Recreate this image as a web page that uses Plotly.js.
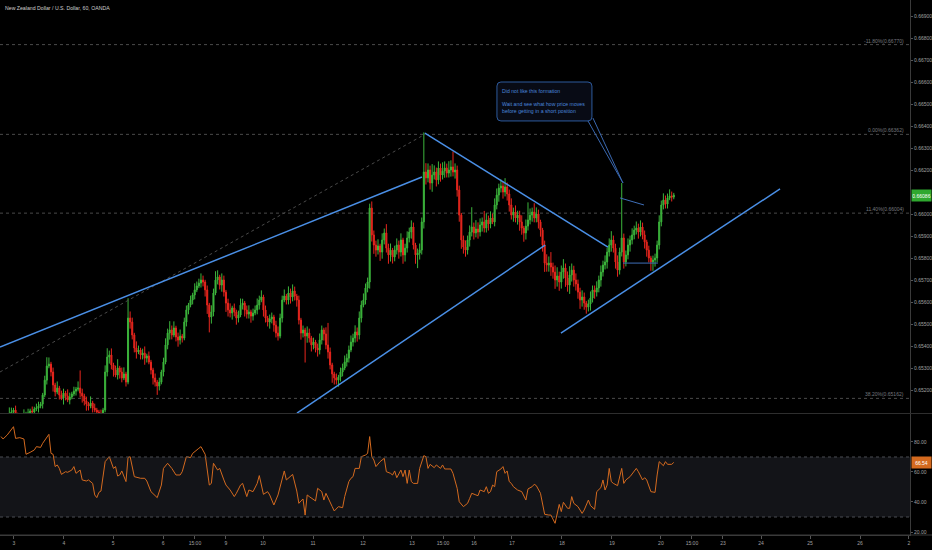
<!DOCTYPE html>
<html><head><meta charset="utf-8">
<script src="https://cdn.plot.ly/plotly-3.0.1.min.js"></script>
<style>html,body{margin:0;padding:0;background:#000;}#chart{width:932px;height:550px;}</style>
</head><body><div id="chart"></div>
<script>
// ---- DATA (hourly NZD/USD bars) ----
const firstOpen = 0.65000;
const closes = [
0.65018,0.65041,0.65064,0.65073,0.65091,0.65100,0.65109,0.65087,0.65073,0.65064,
0.65068,0.65082,0.65091,0.65095,0.65105,0.65100,0.65114,0.65118,0.65127,0.65136,
0.65177,0.65245,0.65309,0.65318,0.65282,0.65223,0.65191,0.65209,0.65177,0.65164,
0.65186,0.65173,0.65155,0.65168,0.65182,0.65195,0.65204,0.65209,0.65186,0.65173,
0.65150,0.65136,0.65127,0.65141,0.65118,0.65109,0.65100,0.65091,0.65082,0.65109,
0.65282,0.65350,0.65359,0.65314,0.65291,0.65268,0.65300,0.65282,0.65255,0.65273,
0.65236,0.65527,0.65509,0.65450,0.65391,0.65373,0.65382,0.65359,0.65368,0.65345,
0.65355,0.65327,0.65291,0.65255,0.65236,0.65218,0.65236,0.65282,0.65327,0.65405,
0.65459,0.65473,0.65450,0.65482,0.65441,0.65427,0.65445,0.65436,0.65509,0.65564,
0.65586,0.65609,0.65632,0.65655,0.65673,0.65686,0.65700,0.65691,0.65655,0.65586,
0.65532,0.65555,0.65641,0.65700,0.65714,0.65677,0.65700,0.65645,0.65595,0.65564,
0.65550,0.65573,0.65555,0.65527,0.65541,0.65586,0.65595,0.65564,0.65545,0.65555,
0.65536,0.65550,0.65564,0.65586,0.65609,0.65623,0.65564,0.65527,0.65509,0.65523,
0.65532,0.65495,0.65459,0.65445,0.65527,0.65609,0.65627,0.65609,0.65641,0.65623,
0.65650,0.65627,0.65609,0.65518,0.65459,0.65473,0.65445,0.65459,0.65436,0.65405,
0.65418,0.65391,0.65382,0.65427,0.65473,0.65455,0.65405,0.65373,0.65314,0.65273,
0.65255,0.65245,0.65259,0.65282,0.65300,0.65327,0.65345,0.65382,0.65418,0.65436,
0.65464,0.65450,0.65527,0.65586,0.65609,0.65664,0.65691,0.66027,0.65905,0.65859,
0.65836,0.65855,0.65827,0.65882,0.65914,0.65845,0.65814,0.65836,0.65805,0.65836,
0.65859,0.65827,0.65882,0.65814,0.65845,0.65891,0.65918,0.65941,0.65859,0.65814,
0.65823,0.65836,0.65964,0.66191,0.66164,0.66200,0.66141,0.66177,0.66191,0.66155,
0.66209,0.66177,0.66195,0.66209,0.66186,0.66200,0.66214,0.66191,0.66200,0.66109,
0.65995,0.65882,0.65850,0.65836,0.65882,0.65918,0.65941,0.65914,0.65932,0.65918,
0.65950,0.65964,0.65936,0.65973,0.65955,0.65982,0.65964,0.66041,0.66086,0.66118,
0.66127,0.66100,0.66123,0.66091,0.66041,0.65995,0.66009,0.65982,0.65995,0.65964,
0.65936,0.65914,0.65945,0.65973,0.65995,0.66009,0.65982,0.66000,0.65964,0.65927,
0.65859,0.65777,0.65768,0.65777,0.65759,0.65736,0.65700,0.65718,0.65691,0.65736,
0.65755,0.65709,0.65677,0.65723,0.65745,0.65700,0.65682,0.65645,0.65609,0.65623,
0.65595,0.65577,0.65591,0.65618,0.65655,0.65645,0.65664,0.65700,0.65736,0.65768,
0.65782,0.65827,0.65859,0.65882,0.65845,0.65782,0.65745,0.65827,0.65891,0.65782,
0.65814,0.65859,0.65882,0.65905,0.65927,0.65936,0.65918,0.65941,0.65905,0.65873,
0.65836,0.65800,0.65782,0.65791,0.65800,0.65859,0.65964,0.66041,0.66064,0.66045,
0.66073,0.66082,0.66077,0.66086];
// upper / lower shadow lengths in pips
const wickUpPips = [
2,1,2,1,3,2,1,2,1,1,2,3,1,2,1,2,1,2,2,1,
1,2,4,3,1,2,1,3,1,2,2,1,3,2,1,2,1,3,8,2,
1,2,1,3,1,2,1,1,2,1,3,4,2,3,1,2,4,1,2,3,
1,9,3,2,1,3,2,1,2,3,1,2,1,1,2,1,2,1,2,3,
2,4,2,3,1,2,3,1,2,2,1,2,1,3,2,2,3,2,1,2,
1,3,2,4,3,1,3,2,1,2,3,1,2,1,2,3,2,1,2,3,
1,2,2,3,2,3,1,2,1,2,2,1,2,3,2,2,3,1,3,2,
3,2,1,2,1,2,1,3,2,1,2,1,2,3,2,1,3,10,2,1,
1,2,1,2,2,3,2,2,3,2,3,2,3,2,3,2,2,2,3,2,
2,3,1,3,2,4,2,3,1,2,3,2,3,1,2,3,2,3,2,1,
2,3,2,18,4,3,2,5,3,2,3,2,4,3,2,4,3,7,3,2,
2,1,2,3,2,3,9,2,4,3,3,2,5,3,2,3,2,3,3,2,
3,2,4,2,2,3,2,3,2,2,3,1,3,8,3,2,4,3,2,1,
1,2,4,3,5,2,3,4,2,3,4,2,3,4,3,2,3,2,2,3,
2,1,2,3,2,2,3,2,3,2,3,2,3,4,2,2,3,2,25,2,
2,3,2,3,2,3,2,3,2,2,1,2,1,2,2,2,3,2,3,2,
2,3,2,1];
const wickDnPips = [
1,2,1,2,1,1,2,1,2,3,1,1,2,1,1,2,1,1,2,1,
2,1,2,1,2,3,2,1,2,1,3,2,1,2,1,1,2,1,2,3,
2,3,2,1,2,1,2,3,2,2,1,2,3,2,3,1,2,3,2,1,
2,1,3,2,2,3,1,2,2,3,2,1,2,3,2,4,2,1,2,1,
2,3,2,1,2,3,2,2,1,2,2,1,2,2,1,1,2,2,3,4,
7,3,2,1,2,2,3,2,4,3,2,3,2,3,2,1,2,3,2,2,
3,2,1,2,2,1,3,2,2,3,2,3,2,2,1,2,1,2,2,3,
2,2,3,2,3,2,12,3,2,3,2,2,3,2,2,3,2,3,2,4,
3,2,3,2,2,1,2,2,1,2,2,3,2,2,1,2,2,3,3,4,
3,2,4,3,2,2,4,3,3,2,2,3,2,4,3,2,2,3,2,4,
6,3,2,3,3,2,3,4,2,3,2,3,2,3,2,2,3,2,3,3,
3,4,3,3,2,3,2,3,2,3,2,3,2,2,3,2,1,2,2,3,
2,3,2,3,3,2,3,2,3,4,3,4,3,2,2,3,2,2,3,3,
3,4,3,3,4,3,4,3,4,3,3,4,3,4,3,3,3,3,4,3,
3,3,2,3,2,3,2,2,3,2,2,3,2,3,2,3,3,2,2,3,
2,2,3,2,2,2,3,2,2,3,3,2,4,4,3,2,2,2,2,2,
2,1,2,1];
// RSI(14) samples: bar index and value
const rsiBar = [0,1,3,6,7,9,11,12,14,16,17,19,20,23,24,25,26,27,28,29,31,32,34,35,36,38,39,41,42,44,45,46,47,48,50,52,54,55,56,57,58,60,61,62,64,67,69,70,72,75,77,78,80,82,84,86,87,89,91,92,95,96,98,100,101,102,104,105,107,108,110,112,113,115,116,118,119,121,123,124,126,128,129,131,133,136,137,140,142,143,144,145,146,147,148,151,152,154,155,156,159,160,162,164,
165,167,168,169,170,172,173,175,176,177,178,179,180,182,184,185,187,188,189,190,192,193,194,195,196,197,198,200,201,203,204,205,206,208,209,211,212,213,216,217,219,220,222,224,225,226,228,229,230,232,233,234,235,236,237,238,240,241,242,243,244,245,246,247,248,250,252,253,255,256,257,259,260,261,263,264,266,267,268,269,270,272,273,274,275,277,279,280,282,283,285,286,288,289,290,291,292,293,294,296,297,298,299,300,302,304,305,306,308,309,310,312,314,315,316,318,319,320,322,323];
const rsiVal = [83.6,82.0,84.7,90.2,82.4,82.9,82.0,71.8,73.1,74.7,76.9,76.4,79.1,85.1,72.4,71.8,63.6,64.7,62.4,58.4,60.2,59.8,61.3,63.6,59.1,61.3,54.7,54.0,54.7,52.4,44.7,42.9,46.4,47.3,66.9,70.2,62.4,63.6,57.3,58.0,60.7,53.6,69.6,70.2,56.9,55.8,55.8,54.0,46.9,42.9,51.3,62.4,65.8,62.4,58.0,58.0,60.2,70.2,69.6,72.4,75.8,76.9,71.8,51.3,52.4,65.8,61.3,62.4,54.7,51.3,48.0,43.6,45.8,51.3,52.4,43.6,48.0,46.9,52.4,57.6,45.1,46.9,44.7,38.0,44.7,60.7,54.7,58.4,47.3,39.1,40.7,42.0,31.3,44.7,43.6,40.7,49.1,46.9,41.3,45.8,36.9,34.0,36.9,36.2,
43.6,53.6,55.8,56.9,62.4,62.4,70.2,71.3,72.4,83.6,70.2,68.0,63.6,66.9,69.1,60.2,59.1,58.0,60.7,56.2,61.3,56.9,61.3,52.4,61.3,53.6,52.4,52.4,62.4,70.9,70.2,62.4,65.1,62.9,64.7,62.4,64.7,62.0,62.0,59.1,49.1,40.2,36.9,39.1,42.4,45.8,44.7,44.2,48.0,46.9,50.2,45.8,46.9,51.3,50.2,60.2,62.0,63.6,59.1,60.7,53.6,52.4,50.2,49.1,48.0,46.9,41.3,48.7,50.2,51.8,50.9,45.8,39.1,31.8,31.3,31.3,25.8,32.4,38.4,33.6,39.8,35.8,35.8,43.6,39.1,36.9,32.4,34.7,41.3,37.6,35.1,46.9,49.6,54.7,48.0,51.3,62.4,53.6,52.4,50.9,55.8,62.4,52.4,54.7,56.9,60.2,62.4,60.2,54.7,56.2,54.7,46.9,46.4,58.0,66.9,64.2,66.9,65.1,65.1,66.4];
// axis ticks
const tickBars = [6.2,30.2,53.8,77.8,93.1,108.0,125.8,149.8,173.8,197.3,212.2,227.1,245.3,269.3,293.3,316.8,331.7,346.6,364.9,388.4,412.4,435.9];
const tickLabels = ["3","4","5","6","15:00","9","10","11","12","13","15:00","16","17","18","19","20","15:00","23","24","25","26","2"];
const priceTicks = [0.652,0.653,0.654,0.655,0.656,0.657,0.658,0.659,0.660,0.662,0.663,0.664,0.665,0.666,0.667,0.668,0.669];
const rsiTicks = [20,40,60,80];
const rsiBand = [30,70];
// Fibonacci retracement levels
const fibLevels = [0.66770,0.66362,0.66004,0.65162];
const fibLabels = ["-11.80%(0.66770)","0.00%(0.66362)","11.40%(0.66004)","38.20%(0.65162)"];
// drawings: [bar0, price0, bar1, price1]
const blueLines = [
  [-0.48,0.65395,202.1,0.66168],
  [203.5,0.66368,291.4,0.65850],
  [142.1,0.65095,261.2,0.65859],
  [268.8,0.65459,374.0,0.66114]
];
const thinLines = [
  [297.2,0.66073,308.7,0.66041],
  [298.6,0.65777,315.4,0.65777]
];
const fibTrend = [-0.48,0.65282,203.5,0.66362];
const calloutBox = [238.1,283.7,0.66423,0.66600];
const calloutPointer = [[281.8,0.66423],[298.6,0.66141],[284.2,0.66436]];
const calloutTitle = "Did not like this formation";
const calloutBody = "Wait and see what how price moves<br>before getting in a short position";
const chartTitle = "New Zealand Dollar / U.S. Dollar, 60, OANDA";
const lastPriceText = "0.66086";
const lastRsiText = "66.54";

// ---- BUILD ----
const bars = closes.map((c,i)=>i);
const opens = closes.map((c,i)=> i===0 ? firstOpen : closes[i-1]);
const highs = closes.map((c,i)=> Math.max(opens[i],c) + (wickUpPips[i]||0)/1e4);
const lows  = closes.map((c,i)=> Math.min(opens[i],c) - (wickDnPips[i]||0)/1e4);

const FONT = '"Liberation Sans",Arial,sans-serif';
const GREEN = '#3cb53c', RED = '#e8261e', BLUE = '#4a8fe6', ORANGE = '#d46a1f';

const candles = {
  type:'candlestick', x:bars, open:opens, high:highs, low:lows, close:closes,
  xaxis:'x', yaxis:'y', whiskerwidth:0, hoverinfo:'skip',
  increasing:{line:{color:GREEN,width:1},fillcolor:GREEN},
  decreasing:{line:{color:RED,width:1},fillcolor:RED}
};
const rsi = {type:'scatter', mode:'lines', x:rsiBar, y:rsiVal, xaxis:'x', yaxis:'y2',
  line:{color:ORANGE,width:1}, hoverinfo:'skip'};

const shapes = [];
shapes.push({type:'rect',xref:'paper',yref:'y2',x0:0,x1:1,y0:rsiBand[0],y1:rsiBand[1],fillcolor:'#131418',line:{width:0},layer:'below'});
rsiBand.forEach(v=>shapes.push({type:'line',xref:'paper',yref:'y2',x0:0,x1:1,y0:v,y1:v,line:{color:'#4a4c52',width:1,dash:'3px,3px'}}));
fibLevels.forEach(v=>shapes.push({type:'line',xref:'paper',yref:'y',x0:0,x1:1,y0:v,y1:v,line:{color:'#4a4a4a',width:1,dash:'3px,3px'},layer:'below'}));
shapes.push({type:'line',xref:'x',yref:'y',x0:fibTrend[0],y0:fibTrend[1],x1:fibTrend[2],y1:fibTrend[3],line:{color:'#4a4a4a',width:1,dash:'3px,3px'}});
blueLines.forEach(l=>shapes.push({type:'line',xref:'x',yref:'y',x0:l[0],y0:l[1],x1:l[2],y1:l[3],line:{color:BLUE,width:1.5}}));
thinLines.forEach(l=>shapes.push({type:'line',xref:'x',yref:'y',x0:l[0],y0:l[1],x1:l[2],y1:l[3],line:{color:'#3f6fb8',width:1}}));
// callout with rounded corners
(function(){
  const [x0,x1,y0,y1] = calloutBox;
  const rx = 1.9, ry = 0.00018;
  const p = `M ${x0+rx},${y1} L ${x1-rx},${y1} Q ${x1},${y1} ${x1},${y1-ry} L ${x1},${y0+ry} Q ${x1},${y0} ${x1-rx},${y0} L ${x0+rx},${y0} Q ${x0},${y0} ${x0},${y0+ry} L ${x0},${y1-ry} Q ${x0},${y1} ${x0+rx},${y1} Z`;
  shapes.push({type:'path',xref:'x',yref:'y',path:p,fillcolor:'rgba(8,12,22,0.95)',line:{color:'#2d5a9c',width:1}});
  const c = calloutPointer;
  shapes.push({type:'path',xref:'x',yref:'y',path:`M ${c[0][0]},${c[0][1]} L ${c[1][0]},${c[1][1]} L ${c[2][0]},${c[2][1]}`,line:{color:'#3a68b0',width:1}});
})();
// pane separator and bottom line across full width
shapes.push({type:'line',xref:'paper',yref:'paper',x0:0,x1:932/910,y0:0.2271,y1:0.2271,line:{color:'#2e2e2e',width:1}});
shapes.push({type:'line',xref:'paper',yref:'paper',x0:0,x1:932/910,y0:0,y1:0,line:{color:'#3a3a3a',width:1}});

const annotations = [];
annotations.push({xref:'paper',yref:'paper',x:0.003,y:0.985,xanchor:'left',yanchor:'middle',showarrow:false,text:chartTitle,font:{family:FONT,size:5.2,color:'#cfcfcf'}});
fibLevels.forEach((v,i)=>annotations.push({xref:'paper',yref:'y',x:0.996,y:v,xanchor:'right',yanchor:'bottom',yshift:-1,showarrow:false,text:fibLabels[i],font:{family:FONT,size:5,color:'#75777e'}}));
annotations.push({xref:'x',yref:'y',x:calloutBox[0]+1.4,y:0.66559,xanchor:'left',yanchor:'middle',showarrow:false,text:calloutTitle,font:{family:FONT,size:5.2,color:'#4a86dc'}});
annotations.push({xref:'x',yref:'y',x:calloutBox[0]+1.4,y:0.66482,xanchor:'left',yanchor:'middle',align:'left',showarrow:false,text:calloutBody,font:{family:FONT,size:5.2,color:'#4a86dc'}});
annotations.push({xref:'paper',yref:'y',x:1,xshift:1,y:closes[closes.length-1],xanchor:'left',yanchor:'middle',showarrow:false,text:lastPriceText,bgcolor:'#2fa82f',borderpad:0,width:19,height:11,font:{family:FONT,size:5,color:'#ffffff'}});
annotations.push({xref:'paper',yref:'y2',x:1,xshift:1,y:rsiVal[rsiVal.length-1],xanchor:'left',yanchor:'middle',showarrow:false,text:lastRsiText,bgcolor:ORANGE,borderpad:0,width:19,height:11,font:{family:FONT,size:5,color:'#ffffff'}});

const axisFont = {family:FONT,size:5,color:'#a0a0a0'};
const layout = {
  width:932, height:550, margin:{l:0,r:22,t:0,b:15,pad:0},
  paper_bgcolor:'#000000', plot_bgcolor:'#000000', showlegend:false,
  font:{family:FONT,size:5,color:'#a0a0a0'},
  xaxis:{domain:[0,1],range:[-0.48,436.4],anchor:'y2',tickmode:'array',tickvals:tickBars,ticktext:tickLabels,
    ticks:'outside',ticklen:3,tickcolor:'#555',showgrid:false,zeroline:false,showline:true,linecolor:'#3a3a3a',
    rangeslider:{visible:false},tickfont:axisFont,automargin:false,fixedrange:true},
  yaxis:{domain:[0.228,1],range:[0.650955,0.669727],side:'right',anchor:'x',tickmode:'array',tickvals:priceTicks,
    tickformat:'.5f',ticks:'outside',ticklen:2,tickcolor:'#555',showgrid:false,zeroline:false,showline:true,
    linecolor:'#3a3a3a',tickfont:axisFont,automargin:false,fixedrange:true},
  yaxis2:{domain:[0,0.2262],range:[18,98.67],side:'right',anchor:'x',tickmode:'array',tickvals:rsiTicks,
    tickformat:'.2f',ticks:'outside',ticklen:2,tickcolor:'#555',showgrid:false,zeroline:false,showline:true,
    linecolor:'#3a3a3a',tickfont:axisFont,automargin:false,fixedrange:true},
  shapes:shapes, annotations:annotations
};
Plotly.newPlot('chart',[candles,rsi],layout,{displayModeBar:false,staticPlot:true});
</script>
</body></html>
